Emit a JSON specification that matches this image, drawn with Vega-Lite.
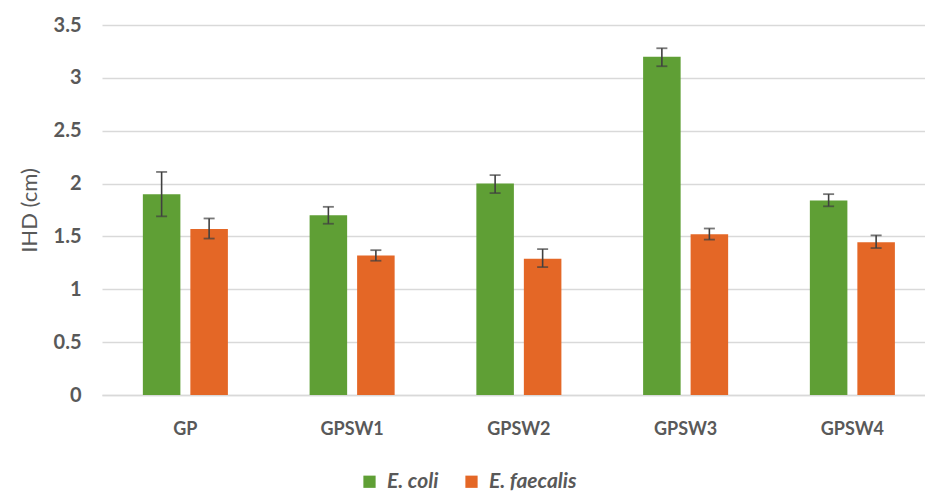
{
  "$schema": "https://vega.github.io/schema/vega-lite/v6.json",
  "autosize": "none",
  "width": 817,
  "height": 370,
  "padding": {"left": 102, "top": 25, "right": 6, "bottom": 98},
  "background": "white",
  "config": {
    "view": {"stroke": null},
    "font": "Lato",
    "axis": {"labelFont": "Lato", "titleFont": "Lato"}
  },
  "data": {
    "values": [
      {"group": "GP", "organism": "E. coli", "value": 1.90, "lo": 1.69, "hi": 2.11},
      {"group": "GP", "organism": "E. faecalis", "value": 1.57, "lo": 1.48, "hi": 1.67},
      {"group": "GPSW1", "organism": "E. coli", "value": 1.70, "lo": 1.62, "hi": 1.78},
      {"group": "GPSW1", "organism": "E. faecalis", "value": 1.32, "lo": 1.27, "hi": 1.37},
      {"group": "GPSW2", "organism": "E. coli", "value": 2.00, "lo": 1.91, "hi": 2.08},
      {"group": "GPSW2", "organism": "E. faecalis", "value": 1.29, "lo": 1.21, "hi": 1.38},
      {"group": "GPSW3", "organism": "E. coli", "value": 3.20, "lo": 3.11, "hi": 3.28},
      {"group": "GPSW3", "organism": "E. faecalis", "value": 1.52, "lo": 1.47, "hi": 1.575},
      {"group": "GPSW4", "organism": "E. coli", "value": 1.84, "lo": 1.785, "hi": 1.90},
      {"group": "GPSW4", "organism": "E. faecalis", "value": 1.445, "lo": 1.39, "hi": 1.51}
    ]
  },
  "encoding": {
    "x": {
      "field": "group", "type": "nominal", "sort": null,
      "scale": {"range": [0, 833.75], "paddingInner": 0, "paddingOuter": 0},
      "axis": {
        "title": null, "labelAngle": 0, "ticks": false, "labelPadding": 25,
        "labelFontSize": 18, "labelFontWeight": "bold", "labelColor": "#595959",
        "domainColor": "#d9d9d9", "domainWidth": 1.5, "grid": false
      }
    },
    "xOffset": {
      "field": "organism", "type": "nominal", "sort": ["E. coli", "E. faecalis"],
      "scale": {"paddingInner": 0.21, "paddingOuter": 0.86}
    }
  },
  "layer": [
    {
      "mark": {"type": "bar"},
      "encoding": {
        "y": {
          "field": "value", "type": "quantitative",
          "scale": {"domain": [0, 3.5], "nice": false},
          "axis": {
            "title": "IHD (cm)", "titleFontSize": 22, "titleFontWeight": "normal",
            "titleColor": "#595959", "titlePadding": 12,
            "values": [0, 0.5, 1, 1.5, 2, 2.5, 3, 3.5],
            "labelExpr": "datum.value",
            "labelFontSize": 20, "labelFontWeight": "bold", "labelColor": "#595959",
            "labelPadding": 21, "ticks": false, "domain": false,
            "gridColor": "#d9d9d9", "gridWidth": 1.5
          }
        },
        "color": {
          "field": "organism", "type": "nominal", "sort": ["E. coli", "E. faecalis"],
          "scale": {"domain": ["E. coli", "E. faecalis"], "range": ["#5f9f35", "#e46726"]},
          "legend": {
            "title": null, "orient": "none", "direction": "horizontal",
            "legendX": 257, "legendY": 446,
            "symbolType": "square", "symbolSize": 150, "symbolStrokeWidth": 0,
            "labelFontSize": 21, "labelFontStyle": "italic", "labelFontWeight": "bold",
            "labelColor": "#595959", "labelOffset": 7, "columnPadding": 22
          }
        }
      }
    },
    {
      "mark": {"type": "rule", "color": "#404040", "strokeWidth": 1.6},
      "encoding": {
        "y": {"field": "lo", "type": "quantitative"},
        "y2": {"field": "hi"}
      }
    },
    {
      "mark": {"type": "tick", "color": "#404040", "size": 11, "thickness": 1.8},
      "encoding": {"y": {"field": "lo", "type": "quantitative"}}
    },
    {
      "mark": {"type": "tick", "color": "#404040", "size": 11, "thickness": 1.8},
      "encoding": {"y": {"field": "hi", "type": "quantitative"}}
    }
  ]
}
